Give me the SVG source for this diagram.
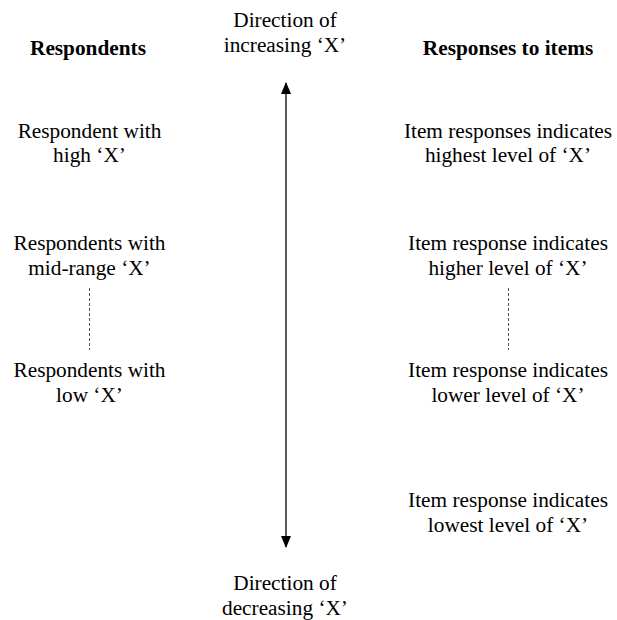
<svg xmlns="http://www.w3.org/2000/svg" width="617" height="620" viewBox="0 0 617 620">
  <style>
    text { font-family: "Liberation Serif", "Times New Roman", serif; font-size: 21.3px; fill: #000; text-anchor: middle; }
    .head { font-weight: bold; }
    .axis { stroke: #000; stroke-width: 1.3; fill: none; }
    .dots { stroke: #555; stroke-width: 1; stroke-dasharray: 3 2; fill: none; }
  </style>
  <defs>
    <marker id="tip" viewBox="0 0 12 10" refX="11" refY="5" markerWidth="12" markerHeight="10" markerUnits="userSpaceOnUse" orient="auto-start-reverse">
      <path d="M0,0 L12,5 L0,10 Z" fill="#000"/>
    </marker>
  </defs>

  <rect width="617" height="620" fill="#fff"/>

  <g id="connectors">
    <line id="axis" class="axis" x1="286" y1="547" x2="286" y2="83" marker-start="url(#tip)" marker-end="url(#tip)"/>
    <line id="left-gap" class="dots" x1="89.5" y1="288" x2="89.5" y2="350"/>
    <line id="right-gap" class="dots" x1="508.5" y1="288" x2="508.5" y2="350"/>
  </g>

  <g id="dir-up">
    <text x="285" y="27">Direction of</text>
    <text x="285" y="52">increasing ‘X’</text>
  </g>
  <g id="dir-down">
    <text x="285" y="590">Direction of</text>
    <text x="285" y="615">decreasing ‘X’</text>
  </g>

  <g id="head-respondents">
    <text class="head" x="88" y="55">Respondents</text>
  </g>
  <g id="head-responses">
    <text class="head" x="508" y="55">Responses to items</text>
  </g>

  <g id="resp-high">
    <text x="89.5" y="138">Respondent with</text>
    <text x="89.5" y="162">high ‘X’</text>
  </g>
  <g id="resp-mid">
    <text x="89.5" y="250">Respondents with</text>
    <text x="89.5" y="275">mid-range ‘X’</text>
  </g>
  <g id="resp-low">
    <text x="89.5" y="377">Respondents with</text>
    <text x="89.5" y="402">low ‘X’</text>
  </g>

  <g id="item-highest">
    <text x="508" y="138">Item responses indicates</text>
    <text x="508" y="162">highest level of ‘X’</text>
  </g>
  <g id="item-higher">
    <text x="508" y="250">Item response indicates</text>
    <text x="508" y="275">higher level of ‘X’</text>
  </g>
  <g id="item-lower">
    <text x="508" y="377">Item response indicates</text>
    <text x="508" y="402">lower level of ‘X’</text>
  </g>
  <g id="item-lowest">
    <text x="508" y="507">Item response indicates</text>
    <text x="508" y="532">lowest level of ‘X’</text>
  </g>
</svg>
